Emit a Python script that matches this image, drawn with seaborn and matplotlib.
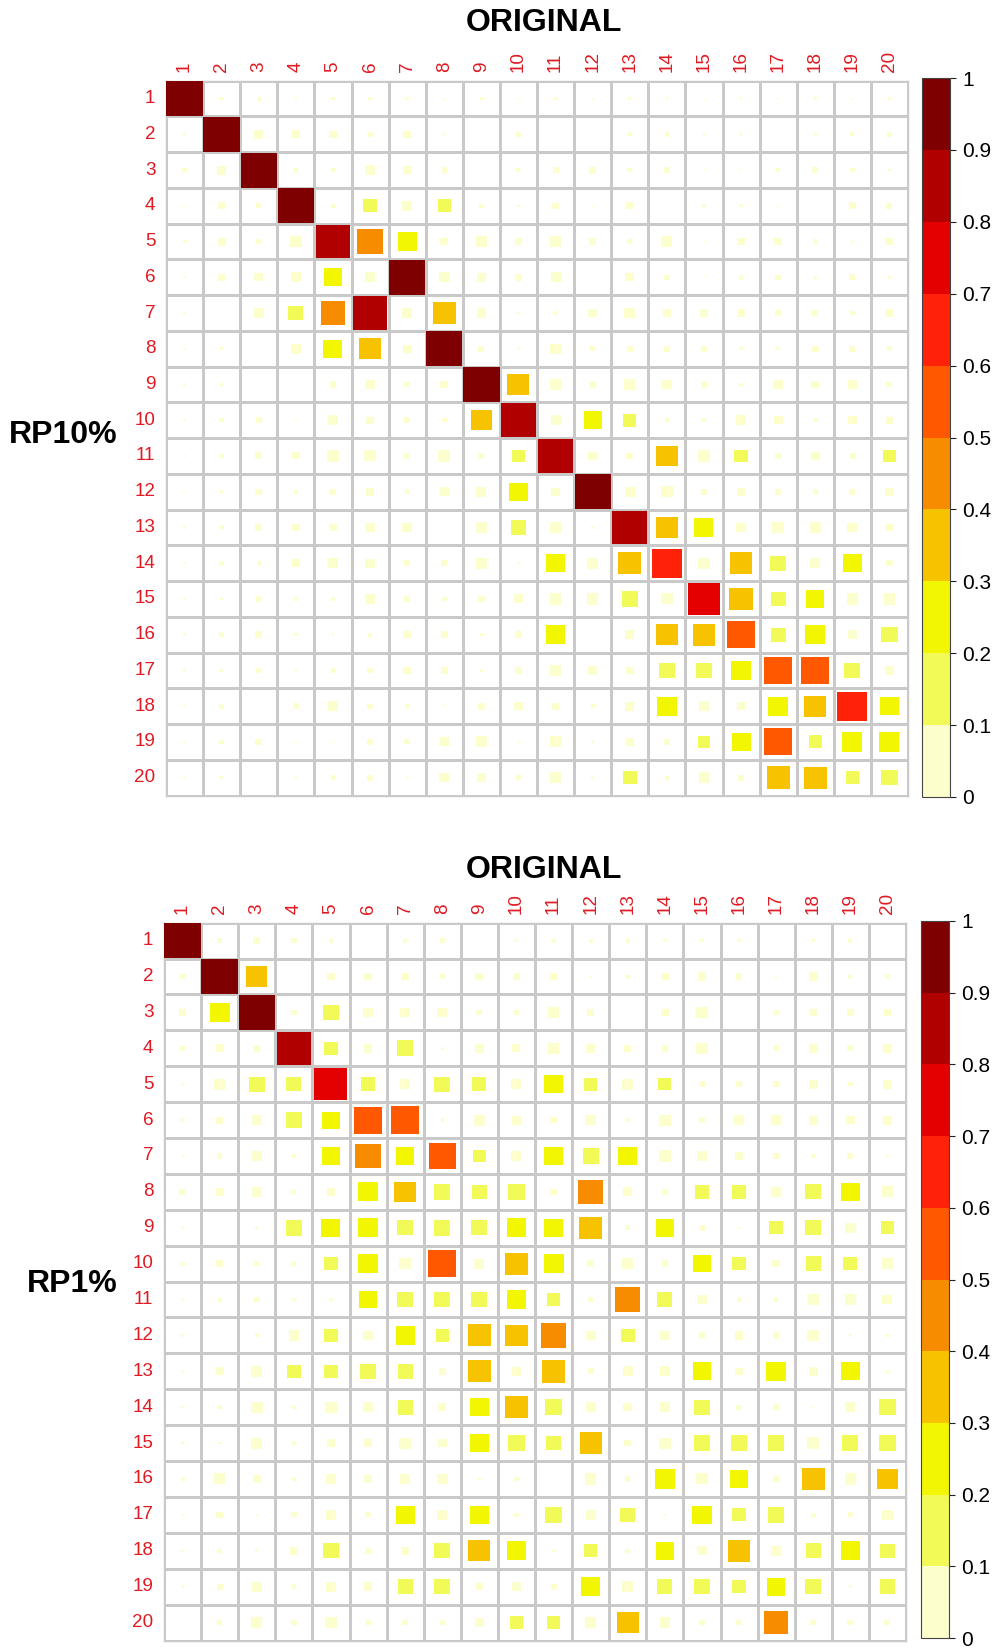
import numpy as np
import matplotlib
matplotlib.use("Agg")
import matplotlib.pyplot as plt
import seaborn as sns
from matplotlib.colors import ListedColormap, BoundaryNorm
from matplotlib.patches import Rectangle
from matplotlib.colorbar import ColorbarBase

# Component labels (20 components on both axes)
components = [str(k) for k in range(1, 21)]

# Correlation magnitudes: rows = reduced (RP) components, columns = ORIGINAL components
rp10 = [
    [0.97, 0.005, 0.012, 0.005, 0.008, 0.008, 0.008, 0.003, 0.008, 0.003, 0.005, 0.003, 0.005, 0.005, 0.003, 0.005, 0.003, 0.005, 0.003, 0.005],
    [0.005, 0.96, 0.064, 0.05, 0.039, 0.018, 0.039, 0.005, 0.002, 0.018, 0.002, 0.002, 0.012, 0.016, 0.005, 0.005, 0.002, 0.008, 0.012, 0.021],
    [0.016, 0.064, 0.96, 0.016, 0.008, 0.083, 0.05, 0.021, 0.002, 0.012, 0.026, 0.039, 0.016, 0.026, 0.005, 0.003, 0.012, 0.026, 0.016, 0.005],
    [0.002, 0.039, 0.021, 0.95, 0.012, 0.14, 0.083, 0.13, 0.012, 0.005, 0.032, 0.002, 0.039, 0.001, 0.008, 0.008, 0.005, 0.001, 0.039, 0.026],
    [0.012, 0.05, 0.016, 0.094, 0.87, 0.48, 0.27, 0.047, 0.088, 0.039, 0.098, 0.032, 0.021, 0.088, 0.003, 0.039, 0.039, 0.016, 0.008, 0.047],
    [0.003, 0.039, 0.055, 0.073, 0.25, 0.073, 0.93, 0.073, 0.064, 0.039, 0.073, 0.001, 0.055, 0.021, 0.003, 0.016, 0.021, 0.005, 0.026, 0.008],
    [0.005, 0.002, 0.073, 0.16, 0.43, 0.86, 0.064, 0.38, 0.064, 0.005, 0.008, 0.055, 0.083, 0.039, 0.039, 0.039, 0.032, 0.026, 0.016, 0.047],
    [0.003, 0.005, 0.001, 0.073, 0.26, 0.33, 0.055, 0.96, 0.026, 0.008, 0.083, 0.021, 0.026, 0.026, 0.026, 0.008, 0.008, 0.032, 0.026, 0.016],
    [0.005, 0.005, 0.003, 0.002, 0.032, 0.073, 0.026, 0.047, 0.96, 0.35, 0.083, 0.032, 0.083, 0.073, 0.032, 0.012, 0.064, 0.047, 0.055, 0.026],
    [0.003, 0.016, 0.026, 0.002, 0.073, 0.039, 0.026, 0.016, 0.33, 0.88, 0.073, 0.24, 0.13, 0.016, 0.016, 0.073, 0.055, 0.016, 0.055, 0.039],
    [0.005, 0.016, 0.039, 0.039, 0.099, 0.094, 0.032, 0.099, 0.026, 0.13, 0.89, 0.055, 0.032, 0.33, 0.099, 0.13, 0.026, 0.055, 0.032, 0.13],
    [0.002, 0.008, 0.032, 0.012, 0.032, 0.055, 0.016, 0.064, 0.073, 0.25, 0.055, 0.95, 0.073, 0.098, 0.032, 0.055, 0.026, 0.021, 0.026, 0.047],
    [0.005, 0.012, 0.032, 0.047, 0.039, 0.073, 0.064, 0.002, 0.099, 0.16, 0.094, 0.005, 0.88, 0.37, 0.26, 0.073, 0.099, 0.083, 0.073, 0.047],
    [0.005, 0.016, 0.012, 0.047, 0.073, 0.064, 0.026, 0.026, 0.094, 0.005, 0.27, 0.098, 0.38, 0.67, 0.094, 0.37, 0.18, 0.073, 0.25, 0.032],
    [0.003, 0.005, 0.021, 0.012, 0.016, 0.083, 0.021, 0.016, 0.032, 0.064, 0.099, 0.099, 0.18, 0.094, 0.78, 0.39, 0.16, 0.24, 0.098, 0.098],
    [0.008, 0.016, 0.032, 0.008, 0.005, 0.012, 0.039, 0.032, 0.005, 0.039, 0.28, 0.001, 0.055, 0.35, 0.37, 0.58, 0.16, 0.29, 0.055, 0.19],
    [0.005, 0.008, 0.021, 0.005, 0.016, 0.026, 0.039, 0.039, 0.008, 0.039, 0.099, 0.055, 0.047, 0.18, 0.19, 0.29, 0.57, 0.58, 0.19, 0.064],
    [0.003, 0.021, 0.001, 0.026, 0.083, 0.021, 0.012, 0.002, 0.039, 0.055, 0.039, 0.012, 0.064, 0.29, 0.073, 0.055, 0.28, 0.35, 0.65, 0.27],
    [0.003, 0.016, 0.032, 0.002, 0.005, 0.026, 0.021, 0.064, 0.094, 0.003, 0.094, 0.008, 0.047, 0.032, 0.12, 0.26, 0.57, 0.13, 0.29, 0.29],
    [0.003, 0.008, 0.001, 0.005, 0.016, 0.026, 0.003, 0.073, 0.055, 0.021, 0.098, 0.005, 0.14, 0.012, 0.083, 0.026, 0.39, 0.38, 0.13, 0.19],
]

rp1 = [
    [0.97, 0.016, 0.032, 0.021, 0.012, 0.001, 0.012, 0.016, 0.001, 0.008, 0.012, 0.012, 0.012, 0.008, 0.008, 0.008, 0.001, 0.008, 0.012, 0.001],
    [0.026, 0.96, 0.33, 0.002, 0.047, 0.047, 0.039, 0.021, 0.047, 0.032, 0.039, 0.003, 0.012, 0.047, 0.055, 0.032, 0.005, 0.055, 0.012, 0.021],
    [0.032, 0.29, 0.96, 0.026, 0.17, 0.064, 0.073, 0.073, 0.026, 0.016, 0.099, 0.032, 0.001, 0.039, 0.099, 0.001, 0.026, 0.032, 0.032, 0.032],
    [0.021, 0.047, 0.032, 0.87, 0.14, 0.055, 0.19, 0.008, 0.055, 0.047, 0.094, 0.055, 0.032, 0.032, 0.094, 0.003, 0.026, 0.055, 0.026, 0.064],
    [0.008, 0.099, 0.18, 0.16, 0.79, 0.14, 0.073, 0.18, 0.14, 0.073, 0.25, 0.13, 0.094, 0.12, 0.026, 0.026, 0.032, 0.064, 0.016, 0.064],
    [0.008, 0.039, 0.073, 0.19, 0.22, 0.57, 0.58, 0.008, 0.094, 0.064, 0.032, 0.083, 0.012, 0.094, 0.032, 0.083, 0.073, 0.064, 0.055, 0.064],
    [0.003, 0.021, 0.073, 0.012, 0.25, 0.46, 0.25, 0.54, 0.13, 0.073, 0.25, 0.18, 0.27, 0.099, 0.064, 0.039, 0.032, 0.008, 0.026, 0.005],
    [0.032, 0.047, 0.073, 0.016, 0.055, 0.28, 0.33, 0.19, 0.16, 0.19, 0.032, 0.47, 0.064, 0.032, 0.16, 0.16, 0.083, 0.18, 0.25, 0.094],
    [0.005, 0.001, 0.005, 0.19, 0.26, 0.29, 0.18, 0.19, 0.18, 0.28, 0.25, 0.39, 0.021, 0.25, 0.032, 0.003, 0.13, 0.18, 0.083, 0.13],
    [0.012, 0.032, 0.021, 0.016, 0.13, 0.27, 0.094, 0.55, 0.073, 0.37, 0.29, 0.032, 0.083, 0.032, 0.24, 0.13, 0.039, 0.16, 0.14, 0.094],
    [0.005, 0.012, 0.026, 0.008, 0.008, 0.24, 0.19, 0.19, 0.18, 0.26, 0.14, 0.016, 0.47, 0.16, 0.064, 0.016, 0.016, 0.083, 0.094, 0.073],
    [0.005, 0.001, 0.012, 0.083, 0.13, 0.073, 0.27, 0.13, 0.38, 0.36, 0.46, 0.073, 0.14, 0.064, 0.032, 0.055, 0.032, 0.099, 0.008, 0.008],
    [0.008, 0.047, 0.094, 0.14, 0.14, 0.19, 0.17, 0.032, 0.38, 0.055, 0.39, 0.026, 0.073, 0.073, 0.25, 0.039, 0.28, 0.064, 0.26, 0.005],
    [0.005, 0.012, 0.099, 0.008, 0.099, 0.073, 0.17, 0.047, 0.25, 0.37, 0.19, 0.073, 0.055, 0.073, 0.17, 0.021, 0.032, 0.003, 0.073, 0.19],
    [0.008, 0.005, 0.094, 0.016, 0.055, 0.047, 0.094, 0.055, 0.25, 0.19, 0.16, 0.35, 0.032, 0.094, 0.19, 0.19, 0.19, 0.099, 0.18, 0.19],
    [0.012, 0.094, 0.047, 0.016, 0.083, 0.039, 0.083, 0.083, 0.005, 0.016, 0.001, 0.099, 0.021, 0.29, 0.094, 0.25, 0.026, 0.38, 0.099, 0.34],
    [0.003, 0.032, 0.005, 0.021, 0.073, 0.021, 0.27, 0.073, 0.27, 0.016, 0.19, 0.073, 0.16, 0.005, 0.27, 0.13, 0.19, 0.016, 0.021, 0.083],
    [0.005, 0.016, 0.008, 0.047, 0.17, 0.032, 0.047, 0.18, 0.35, 0.28, 0.005, 0.13, 0.016, 0.25, 0.064, 0.37, 0.083, 0.17, 0.28, 0.16],
    [0.008, 0.026, 0.073, 0.016, 0.073, 0.055, 0.16, 0.18, 0.039, 0.064, 0.026, 0.28, 0.094, 0.17, 0.18, 0.13, 0.25, 0.19, 0.008, 0.18],
    [0.002, 0.016, 0.094, 0.026, 0.094, 0.026, 0.021, 0.021, 0.055, 0.14, 0.14, 0.094, 0.35, 0.083, 0.026, 0.021, 0.43, 0.026, 0.026, 0.026],
]

# Ten-step palette, one colour per 0.1 interval
palette = ["#FCFECB", "#F2FA58", "#F2F600", "#F7C300", "#F88C00",
           "#FF5800", "#FF2208", "#E40000", "#B10000", "#7E0000"]
levels = np.linspace(0, 1, 11)
tick_text = ["0", "0.1", "0.2", "0.3", "0.4", "0.5", "0.6", "0.7", "0.8", "0.9", "1"]

sns.set_theme(style="white")
plt.rcParams["font.family"] = ["Liberation Sans", "DejaVu Sans"]

W, H = 997, 1648
fig = plt.figure(figsize=(W / 100, H / 100), dpi=100)

cmap = ListedColormap(palette)
norm = BoundaryNorm(levels, cmap.N)
label_red = "#E01A22"
grid_col = "#C9C9C9"


def px_axes(x0, y0, x1, y1):
    return fig.add_axes([x0 / W, 1 - y1 / H, (x1 - x0) / W, (y1 - y0) / H])


def draw_matrix(ax, mat):
    mat = np.asarray(mat, dtype=float)
    n_r, n_c = mat.shape
    sns.heatmap(np.zeros_like(mat), ax=ax, cmap=ListedColormap(["white"]),
                cbar=False, linewidths=1.0, linecolor=grid_col,
                xticklabels=components, yticklabels=components)
    for i in range(n_r):
        for j in range(n_c):
            v = mat[i, j]
            side = np.sqrt(abs(v))
            ax.add_patch(Rectangle((j + 0.5 - side / 2, i + 0.5 - side / 2), side, side,
                                   facecolor=cmap(norm(v)), edgecolor="none", zorder=3))
    ax.set_xlim(0, n_c)
    ax.set_ylim(n_r, 0)
    for s in ax.spines.values():
        s.set_visible(True)
        s.set_color(grid_col)
        s.set_linewidth(1.0)
    ax.xaxis.tick_top()
    ax.tick_params(axis="x", length=0, pad=6.3, labelrotation=90,
                   labelcolor=label_red, labelsize=13.6)
    ax.tick_params(axis="y", length=0, pad=7.6, labelrotation=0,
                   labelcolor=label_red, labelsize=13.6)
    ax.set_xlabel("")
    ax.set_ylabel("")


def draw_legend(cax):
    cb = ColorbarBase(cax, cmap=cmap, norm=norm, boundaries=levels,
                      ticks=levels, orientation="vertical")
    cb.set_ticklabels(tick_text)
    cb.outline.set_edgecolor("#444444")
    cb.outline.set_linewidth(0.8)
    cax.tick_params(axis="y", length=4, width=0.8, color="#222222", pad=5,
                    labelsize=15, labelcolor="black", right=True, left=False)


# Upper panel: RP10%
ax1 = px_axes(166, 80.7, 908, 795.5)
draw_matrix(ax1, rp10)
cax1 = px_axes(922, 78, 950, 797)
draw_legend(cax1)
fig.text(544 / W, 1 - 23 / H, "ORIGINAL", ha="center", va="center",
         fontsize=23, fontweight="bold", color="black")
fig.text(117.7 / W, 1 - 435 / H, "RP10%", ha="right", va="center",
         fontsize=23, fontweight="bold", color="black")

# Lower panel: RP1%
ax2 = px_axes(164, 922.7, 906, 1640.5)
draw_matrix(ax2, rp1)
cax2 = px_axes(921, 921, 949, 1638)
draw_legend(cax2)
fig.text(544 / W, 1 - 870.5 / H, "ORIGINAL", ha="center", va="center",
         fontsize=23, fontweight="bold", color="black")
fig.text(117.7 / W, 1 - 1284 / H, "RP1%", ha="right", va="center",
         fontsize=23, fontweight="bold", color="black")

fig.savefig("out.png", dpi=100, facecolor="white")
